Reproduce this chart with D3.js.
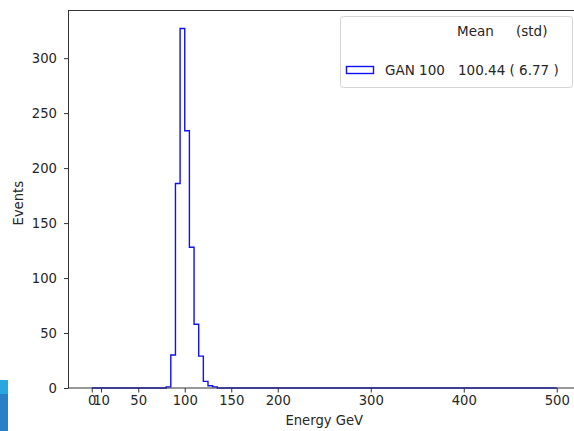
<!DOCTYPE html>
<html lang="en">
<head>
	<meta charset="utf-8" />
	<title>GAN energy</title>
	<script src="https://cdnjs.cloudflare.com/ajax/libs/d3/7.8.5/d3.min.js"></script>
	<style>
		body { margin: 0; background: #fff; }
		text { font-family: "DejaVu Sans", sans-serif; fill: #262626; }
	</style>
</head>
<body>
	<svg width="574" height="431"></svg>
	<script>
		// histogram: bin width 5 GeV from 0 to 500, only non-empty bins listed
		const binWidth = 5;
		const binRange = [0, 500];
		const binLows = [80, 85, 90, 95, 100, 105, 110, 115, 120, 125, 130];
		const counts  = [1, 30, 186, 327, 234, 128, 58, 29, 6, 2, 1];

		const xTicks = [0, 10, 50, 100, 150, 200, 300, 400, 500];
		const yTicks = [0, 50, 100, 150, 200, 250, 300];

		const legendHeader = ['Mean', '(std)'];
		const legendLabel = 'GAN 100';
		const legendStats = '100.44 ( 6.77 )';

		let svg = d3.select('svg');
		svg.append('rect').attr('width', 574).attr('height', 431).attr('fill', '#fff');

		// little blue corner tab in the bottom-left
		svg.append('rect').attr('x', 0).attr('y', 380).attr('width', 8).attr('height', 14).attr('fill', '#27a6e0');
		svg.append('rect').attr('x', 0).attr('y', 394).attr('width', 8).attr('height', 37).attr('fill', '#2a80c6');

		let pLeft = 68.5, pRight = 580, pTop = 10.5, pBottom = 388;
		let fs = 13.2;

		let x = d3.scaleLinear().domain([-25, 525]).range([pLeft, pRight]);
		let ymax = d3.max(counts) * 1.05;
		let y = d3.scaleLinear().domain([0, ymax]).range([pBottom, pTop]);

		// build full step outline
		let edges = d3.range(binRange[0], binRange[1] + binWidth, binWidth);
		let full = edges.slice(0, -1).map(lo => {
			let i = binLows.indexOf(lo);
			return i < 0 ? 0 : counts[i];
		});
		let pts = [[edges[0], 0]];
		full.forEach((c, i) => {
			pts.push([edges[i], c]);
			pts.push([edges[i + 1], c]);
		});
		pts.push([edges[edges.length - 1], 0]);

		let line = d3.line().x(d => x(d[0])).y(d => y(d[1]));

		svg.append('path')
			.attr('d', line(pts))
			.attr('fill', 'none')
			.attr('stroke', '#1010f0')
			.attr('stroke-width', 1.4);

		// axes
		let xAxis = svg.append('g')
			.attr('transform', `translate(0,${pBottom})`)
			.call(d3.axisBottom(x).tickValues(xTicks).tickSize(4.5).tickSizeOuter(0).tickPadding(3.5));
		let yAxis = svg.append('g')
			.attr('transform', `translate(${pLeft},0)`)
			.call(d3.axisLeft(y).tickValues(yTicks).tickSize(4.5).tickSizeOuter(0).tickPadding(7));

		[xAxis, yAxis].forEach(g => {
			g.select('.domain').remove();
			g.selectAll('line').attr('stroke', '#333');
			g.selectAll('text').attr('font-size', fs).attr('fill', '#262626')
				.attr('font-family', 'DejaVu Sans');
		});

		// spines
		svg.append('rect')
			.attr('x', pLeft).attr('y', pTop)
			.attr('width', pRight - pLeft).attr('height', pBottom - pTop)
			.attr('fill', 'none').attr('stroke', '#333').attr('stroke-width', 1);

		svg.append('text')
			.attr('x', (pLeft + pRight) / 2).attr('y', 425)
			.attr('text-anchor', 'middle').attr('font-size', fs)
			.text('Energy GeV');
		svg.append('text')
			.attr('transform', `translate(23,${(pTop + pBottom) / 2 + 4}) rotate(-90)`)
			.attr('text-anchor', 'middle').attr('font-size', fs)
			.text('Events');

		// legend
		let lg = svg.append('g');
		lg.append('rect')
			.attr('x', 340.5).attr('y', 16.5).attr('width', 232).attr('height', 71)
			.attr('rx', 3).attr('fill', '#fff').attr('fill-opacity', 0.8)
			.attr('stroke', '#d4d4d4');
		lg.append('text').attr('x', 457).attr('y', 36).attr('font-size', 13.5).text(legendHeader[0]);
		lg.append('text').attr('x', 516).attr('y', 36).attr('font-size', 13.5).text(legendHeader[1]);
		lg.append('rect')
			.attr('x', 346.5).attr('y', 66.5).attr('width', 27).attr('height', 7)
			.attr('fill', 'none').attr('stroke', '#1010f0').attr('stroke-width', 1.4);
		lg.append('text').attr('x', 385).attr('y', 75).attr('font-size', 13.5).text(legendLabel);
		lg.append('text').attr('x', 458).attr('y', 75).attr('font-size', 13.5).text(legendStats);
	</script>
</body>
</html>
